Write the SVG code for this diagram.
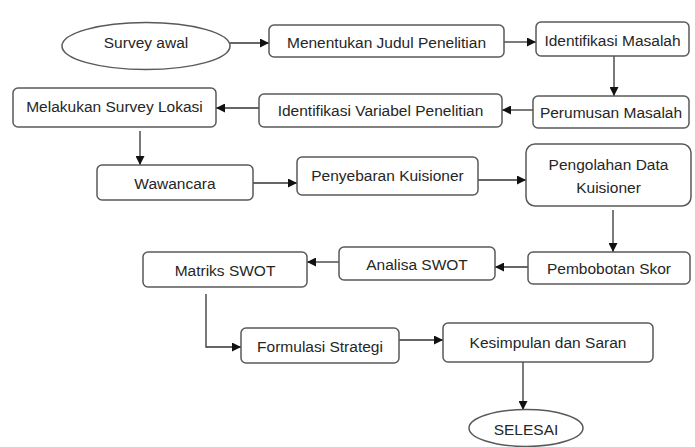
<svg xmlns="http://www.w3.org/2000/svg" width="695" height="447" viewBox="0 0 695 447">
<defs>
<style>
.b{fill:#fff;stroke:#595959;stroke-width:1.5}
.t{font-family:"Liberation Sans",Arial,sans-serif;font-size:15.5px;fill:#262626;text-anchor:middle;dominant-baseline:central}
.c{fill:none;stroke:#333;stroke-width:1.3}
</style>
<marker id="a" viewBox="0 0 10 10" refX="10" refY="5" markerWidth="9" markerHeight="9" markerUnits="userSpaceOnUse" orient="auto">
<path d="M0,0L10,5L0,10z" fill="#111"/>
</marker>
</defs>
<rect width="695" height="447" fill="#fff"/>
<g id="connectors">
<path class="c" d="M230,43H269" marker-end="url(#a)"/>
<path class="c" d="M504,42H536" marker-end="url(#a)"/>
<path class="c" d="M614,56V96" marker-end="url(#a)"/>
<path class="c" d="M533,110H502" marker-end="url(#a)"/>
<path class="c" d="M259,108H216" marker-end="url(#a)"/>
<path class="c" d="M140,131V165" marker-end="url(#a)"/>
<path class="c" d="M253,183H297" marker-end="url(#a)"/>
<path class="c" d="M478,180H526" marker-end="url(#a)"/>
<path class="c" d="M613,210V252" marker-end="url(#a)"/>
<path class="c" d="M528,267H495" marker-end="url(#a)"/>
<path class="c" d="M339,262H307" marker-end="url(#a)"/>
<path class="c" d="M206,294V347H241" marker-end="url(#a)"/>
<path class="c" d="M399,340H443" marker-end="url(#a)"/>
<path class="c" d="M523,362V410" marker-end="url(#a)"/>
</g>
<g id="survey-awal"><ellipse class="b" cx="146" cy="46" rx="84" ry="23.5"/><text class="t" x="146" y="42">Survey awal</text></g>
<g id="menentukan"><rect class="b" x="269" y="25" width="235" height="32" rx="5"/><text class="t" x="386.5" y="42">Menentukan Judul Penelitian</text></g>
<g id="identifikasi-masalah"><rect class="b" x="536" y="22" width="153" height="34" rx="5"/><text class="t" x="612.5" y="40">Identifikasi Masalah</text></g>
<g id="perumusan"><rect class="b" x="533" y="96" width="156" height="32" rx="5"/><text class="t" x="611" y="112">Perumusan Masalah</text></g>
<g id="identifikasi-variabel"><rect class="b" x="259" y="94" width="243" height="33" rx="5"/><text class="t" x="380.5" y="110">Identifikasi Variabel Penelitian</text></g>
<g id="melakukan"><rect class="b" x="13" y="88" width="203" height="39" rx="5"/><text class="t" x="114.5" y="106">Melakukan Survey Lokasi</text></g>
<g id="wawancara"><rect class="b" x="97" y="165" width="156" height="35" rx="5"/><text class="t" x="175" y="183">Wawancara</text></g>
<g id="penyebaran"><rect class="b" x="297" y="157" width="181" height="38" rx="5"/><text class="t" x="387.5" y="175">Penyebaran Kuisioner</text></g>
<g id="pengolahan"><rect class="b" x="526" y="144" width="165" height="62" rx="9"/><text class="t" x="608.5" y="164">Pengolahan Data</text><text class="t" x="608.5" y="187">Kuisioner</text></g>
<g id="pembobotan"><rect class="b" x="528" y="252" width="162" height="32" rx="5"/><text class="t" x="609" y="268">Pembobotan Skor</text></g>
<g id="analisa"><rect class="b" x="339" y="247" width="156" height="33" rx="5"/><text class="t" x="417" y="264">Analisa SWOT</text></g>
<g id="matriks"><rect class="b" x="143" y="252" width="164" height="35" rx="5"/><text class="t" x="225" y="270">Matriks SWOT</text></g>
<g id="formulasi"><rect class="b" x="241" y="328" width="158" height="35" rx="5"/><text class="t" x="320" y="346">Formulasi Strategi</text></g>
<g id="kesimpulan"><rect class="b" x="443" y="323" width="210" height="39" rx="5"/><text class="t" x="548" y="342">Kesimpulan dan Saran</text></g>
<g id="selesai"><ellipse class="b" cx="526" cy="428" rx="57" ry="18.5"/><text class="t" x="526" y="429">SELESAI</text></g>
</svg>
